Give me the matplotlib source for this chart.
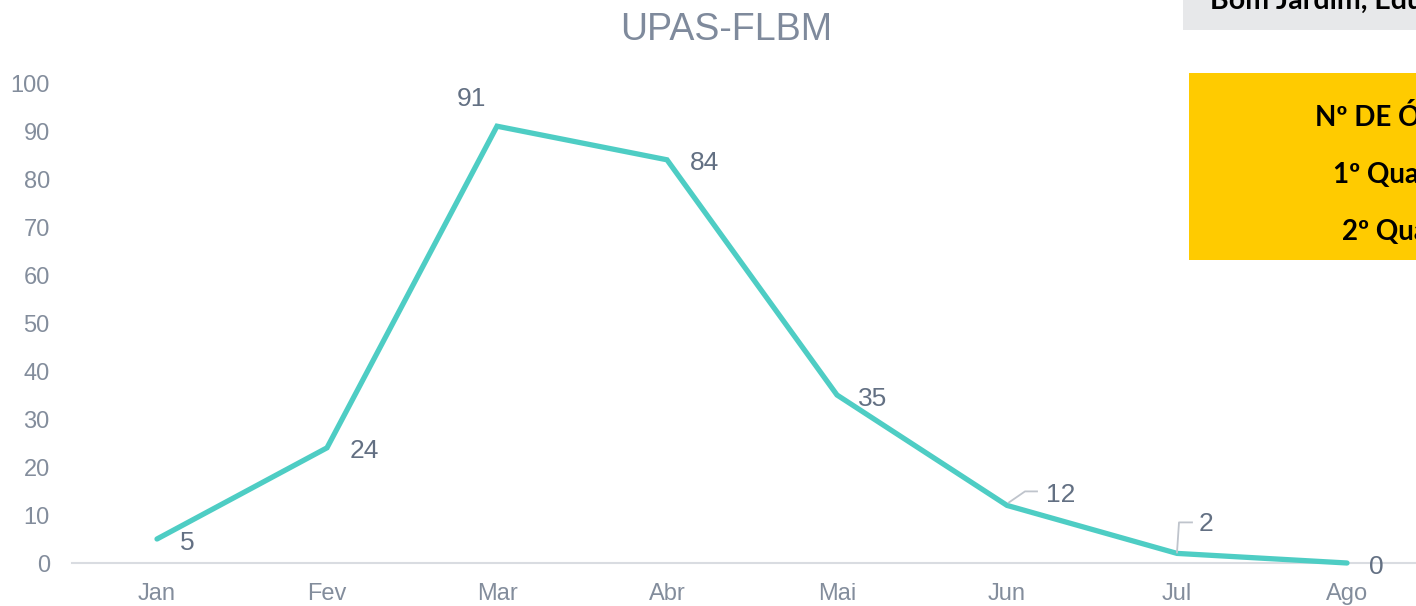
import matplotlib
matplotlib.use("Agg")
import matplotlib.pyplot as plt
import matplotlib.patches as mpatches
from matplotlib.lines import Line2D
from matplotlib.transforms import IdentityTransform

# ── Data ──────────────────────────────────────────────────────────────────────
months = ["Jan", "Fev", "Mar", "Abr", "Mai", "Jun", "Jul", "Ago"]
obitos = [5, 24, 91, 84, 35, 12, 2, 0]
y_ticks = [0, 10, 20, 30, 40, 50, 60, 70, 80, 90, 100]

# label offsets (pixels) relative to each point
label_offsets = [(30, -4), (37, -3), (-26, 27), (37, -3), (36, -4), (54, 10), (29, 29), (29, -4)]
leaders = {5: [(2, 3), (18, 14), (30, 14)], 6: [(0, 1), (2, 31), (15, 31)]}

LINE_COLOR = "#4ecdc4"
TICK_COLOR = "#838d9c"
LABEL_COLOR = "#637083"
AXIS_COLOR = "#d9dce1"

plt.rcParams["font.family"] = ["Liberation Sans", "DejaVu Sans"]

W, H = 1416, 606
fig = plt.figure(figsize=(W / 100, H / 100), dpi=100)
fig.patch.set_facecolor("white")

ax = fig.add_axes([72 / W, 43 / H, 1360 / W, 480 / H])
x = list(range(len(months)))
ax.plot(x, obitos, color=LINE_COLOR, linewidth=3.8, solid_capstyle="round",
        solid_joinstyle="miter", zorder=3, clip_on=False)
ax.set_xlim(-0.5, len(months) - 0.5)
ax.set_ylim(0, 100)
ax.set_xticks(x)
ax.set_xticklabels(months)
ax.set_yticks(y_ticks)
ax.tick_params(axis="both", length=0, labelsize=17, colors=TICK_COLOR)
ax.tick_params(axis="x", pad=14.5)
ax.tick_params(axis="y", pad=16)
for s in ["left", "right", "top"]:
    ax.spines[s].set_visible(False)
ax.spines["bottom"].set_color(AXIS_COLOR)
ax.spines["bottom"].set_linewidth(1.5)

for i, (v, off) in enumerate(zip(obitos, label_offsets)):
    ax.annotate(str(v), (i, v), xytext=off, textcoords="offset pixels",
                ha="center", va="center", fontsize=19, color=LABEL_COLOR)

# leader lines for labels pushed away from the line
for i, pts in leaders.items():
    px, py = ax.transData.transform((i, obitos[i]))
    fig.add_artist(Line2D([px + dx for dx, dy in pts], [py + dy for dx, dy in pts],
                          transform=IdentityTransform(), color="#bfc4cc", linewidth=1.3))

fig.text(726 / W, 1 - 30 / H, "UPAS-FLBM", ha="center", va="center",
         fontsize=27, color="#7f8a9c")

# ── Overlapping boxes at right edge (clipped by figure) ──────────────────────
fig.add_artist(mpatches.Rectangle((1183 / W, 1 - 30 / H), 300 / W, 40 / H,
                                  transform=fig.transFigure, facecolor="#e7e8ea",
                                  edgecolor="none", zorder=5))
fig.text(1210 / W, 1 - 9 / H, "Bom Jardim, Educandos", ha="left", va="baseline",
         fontsize=20.5, fontweight="bold", family=["Lato", "DejaVu Sans"], color="black", zorder=6)

fig.add_artist(mpatches.Rectangle((1189 / W, 1 - 260 / H), 300 / W, 187 / H,
                                  transform=fig.transFigure, facecolor="#ffcb00",
                                  edgecolor="none", zorder=5))
box_lines = [("Nº DE ÓBITOS", 1315, 118), ("1º Quadrimestre", 1333, 175), ("2º Quadrimestre", 1342, 232)]
for txt, tx, ty in box_lines:
    fig.text(tx / W, 1 - ty / H, txt, ha="left", va="center", fontsize=20,
             fontweight="bold", family=["Lato", "DejaVu Sans"], color="black", zorder=6)

fig.savefig("out.png", dpi=100)
